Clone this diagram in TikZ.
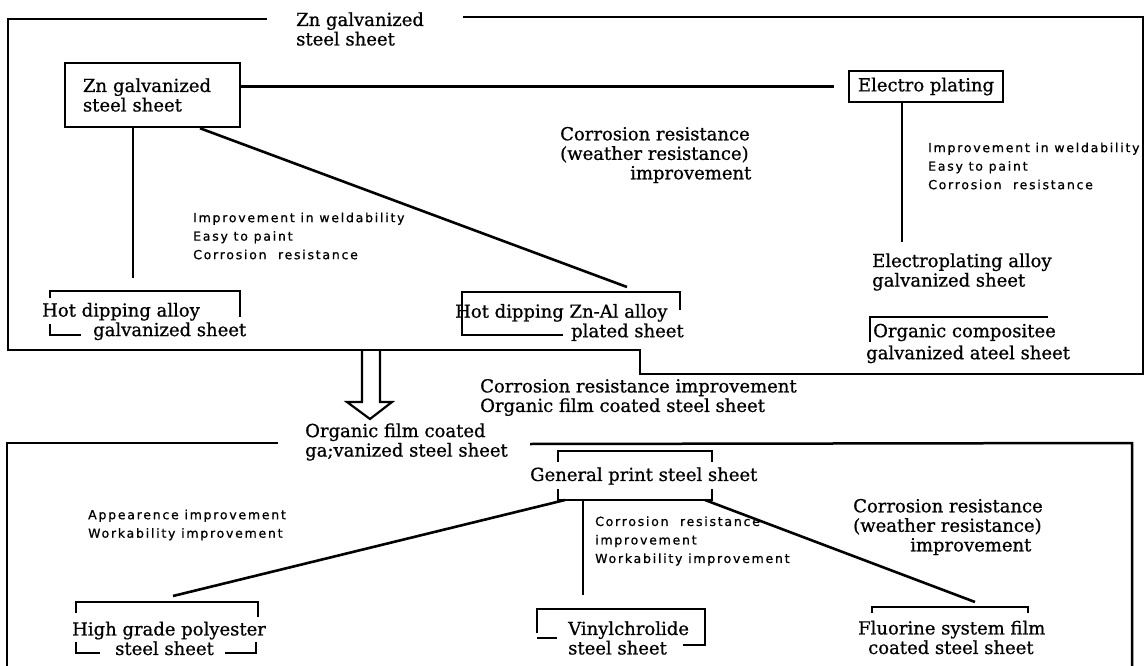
\documentclass[tikz,border=0pt]{standalone}
\usepackage{fontspec}
\setmainfont{DejaVu Serif}[FakeBold=0.8]
\newfontfamily\smf{DejaVu Sans}[LetterSpace=14,FakeBold=0.8]
\begin{document}
\begin{tikzpicture}[x=1pt,y=-1pt,
  ser/.style={font=\fontsize{18}{19.5}\selectfont, inner sep=0pt, align=left, anchor=west},
  sml/.style={font=\smf\fontsize{12.5}{18.5}\selectfont, inner sep=0pt, align=left, anchor=west},
  frame/.style={line width=2.5pt},
  brk/.style={line width=2.2pt},
  link/.style={line width=2.6pt},
  boxed/.style={draw, line width=2.5pt, font=\fontsize{18}{19.5}\selectfont, inner sep=0pt}]
\useasboundingbox (0,0) rectangle (1146,666);

% frames
\draw[frame] (267,19) -- (8,19) -- (8,350) -- (640,350) -- (640,374) -- (1143,374) -- (1143,17) -- (463,17);
\draw[frame] (278,443) -- (7,443) -- (7,670);
\draw[frame] (530,444) -- (1132,443) -- (1132,670);

% frame titles
\node[ser] (t1) at (296,29) {Zn galvanized\\steel sheet};
\node[ser] (t2) at (305,442) {Organic film coated\\ga;vanized steel sheet};
\node[ser] (t3) at (480,397.5) {Corrosion resistance improvement\\Organic film coated steel sheet};

% boxes
\node[boxed, minimum width=175pt, minimum height=64pt, text width=139pt, align=left] (zn) at (152.5,95) {Zn galvanized\\steel sheet};
\node[boxed, minimum width=154pt, minimum height=31pt] (ep) at (926,86.5) {Electro plating};

% product texts
\node[ser] (hda) at (42,321.5) {Hot dipping alloy\\\hspace*{51pt}galvanized sheet};
\node[ser] (hza) at (455,322.5) {Hot dipping Zn-Al alloy\\\hspace*{116pt}plated sheet};
\node[ser] (epa) at (872,272) {Electroplating alloy\\galvanized sheet};
\node[ser, font=\fontsize{18}{22}\selectfont] (oc) at (866,343.5) {\hspace*{7pt}Organic compositee\\galvanized ateel sheet};
\node[ser] (gp) at (530,476) {General print steel sheet};
\node[ser] (hg) at (72,638.5) {High grade polyester\\\hspace*{43pt}steel sheet};
\node[ser] (vc) at (568,638) {Vinylchrolide\\steel sheet};
\node[ser] (fl) at (858,637.5) {Fluorine system film\\\hspace*{10pt}coated steel sheet};

% improvement labels
\node[ser] (cr1) at (560,155) {Corrosion resistance\\(weather resistance)\\\hspace*{70pt}improvement};
\node[ser] (cr2) at (853,527) {Corrosion resistance\\(weather resistance)\\\hspace*{57pt}improvement};
\node[sml] (s1) at (193,236) {Improvement in weldability\\Easy to paint\\Corrosion\ \ resistance};
\node[sml] (s2) at (928,166) {Improvement in weldability\\Easy to paint\\Corrosion\ \ resistance};
\node[sml] (s3) at (88,525) {Appearence improvement\\Workability improvement};
\node[sml] (s4) at (595,541) {Corrosion\ \ resistance\\improvement\\Workability improvement};

% brackets
\draw[brk] (50,298)--(50,291)--(240,291)--(240,317);
\draw[brk] (50,324)--(50,335)--(81,335);
\draw[brk] (563,335)--(462,335)--(462,292)--(680,292)--(680,310);
\draw[brk] (870,342)--(870,317)--(1048,317);
\draw[brk] (558,462)--(558,451)--(712,451)--(712,462);
\draw[brk] (558,489)--(558,500)--(712,500)--(712,489);
\draw[brk] (76,613)--(76,602)--(258,602)--(258,617);
\draw[brk] (76,642)--(76,653)--(100,653);
\draw[brk] (225,653)--(256,653)--(256,642);
\draw[brk] (537,633)--(537,609)--(705,609)--(705,645)--(683,645);
\draw[brk] (537,638)--(557,638);
\draw[brk] (872,613)--(872,607)--(1028,607)--(1028,613);

% connector end points
\coordinate (zv) at (133,278);
\coordinate (zd) at (627,287);
\coordinate (ev) at (902,242);
\coordinate (gpl) at (565,500);
\coordinate (gpm) at (583,500);
\coordinate (gpr) at (705,500);
\coordinate (hgt) at (173,596);
\coordinate (vct) at (583,595);
\coordinate (flt) at (975,602);

% connectors
\draw[link] (zn.east |- ep.west) -- ([xshift=-14pt]ep.west);
\draw[link] (zn.south -| zv) -- (zv);
\draw[link] ([xshift=47.5pt]zn.south) -- (zd);
\draw[link] (ep.south -| ev) -- (ev);
\draw[link] (gpl) -- (hgt);
\draw[link] (gpm) -- (vct);
\draw[link] (gpr) -- (flt);

% hollow arrow
\draw[line width=2.2pt, line join=miter] (362,350) -- (362,402) -- (347,402) -- (370,419) -- (392,402) -- (380,402) -- (380,350);
\end{tikzpicture}
\end{document}
